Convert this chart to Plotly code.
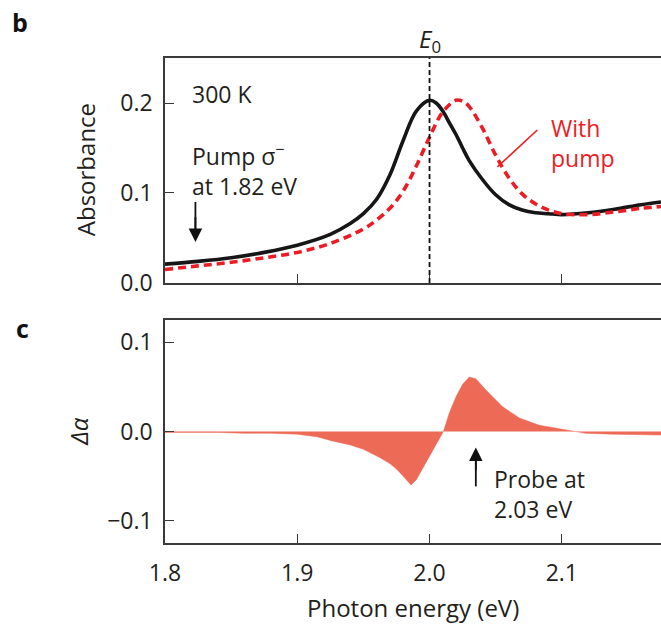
import plotly.graph_objects as go

# ---------------- data ----------------
E0 = 2.0
x_abs = [1.80, 1.825, 1.85, 1.875, 1.90, 1.925, 1.94, 1.95, 1.96, 1.97, 1.98, 1.99,
         2.00, 2.005, 2.01, 2.015, 2.02, 2.025, 2.03, 2.04, 2.05, 2.06, 2.07, 2.08,
         2.09, 2.10, 2.12, 2.14, 2.16, 2.175]
abs_nopump = [0.021, 0.024, 0.028, 0.034, 0.042, 0.054, 0.066, 0.077, 0.093, 0.120, 0.158, 0.191,
              0.203, 0.200, 0.191, 0.178, 0.165, 0.150, 0.136, 0.115, 0.098, 0.087, 0.081, 0.078,
              0.077, 0.076, 0.078, 0.082, 0.087, 0.090]
x_pump = [1.80, 1.825, 1.85, 1.875, 1.90, 1.925, 1.95, 1.96, 1.97, 1.98, 1.99, 2.00,
          2.01, 2.02, 2.025, 2.03, 2.04, 2.05, 2.06, 2.07, 2.08, 2.09, 2.10, 2.12,
          2.14, 2.16, 2.175]
abs_pump = [0.015, 0.019, 0.023, 0.028, 0.034, 0.044, 0.060, 0.070, 0.083, 0.102, 0.130, 0.162,
            0.190, 0.203, 0.202, 0.196, 0.172, 0.142, 0.117, 0.099, 0.088, 0.081, 0.077, 0.076,
            0.079, 0.083, 0.085]
x_diff = [1.80, 1.82, 1.84, 1.86, 1.88, 1.90, 1.915, 1.925, 1.94, 1.95, 1.962, 1.97, 1.975,
          1.98, 1.986, 1.99, 1.995, 2.0, 2.005, 2.0105, 2.015, 2.02, 2.025, 2.03, 2.035,
          2.043, 2.055, 2.068, 2.083, 2.10, 2.11, 2.118, 2.138, 2.16, 2.175]
d_alpha = [-0.001, -0.001, -0.001, -0.002, -0.002, -0.003, -0.006, -0.010, -0.015, -0.020, -0.029,
           -0.036, -0.042, -0.050, -0.060, -0.054, -0.041, -0.028, -0.014, 0.0, 0.021, 0.039,
           0.053, 0.061, 0.059, 0.046, 0.028, 0.015, 0.007, 0.003, 0.0, -0.002, -0.003, -0.004,
           -0.004]
x_ticks = [1.8, 1.9, 2.0, 2.1]
x_ticklabels = ["1.8", "1.9", "2.0", "2.1"]
y1_ticks = [0.0, 0.1, 0.2]
y1_ticklabels = ["0.0", "0.1", "0.2"]
y2_ticks = [-0.1, 0.0, 0.1]
y2_ticklabels = ["\u22120.1", "0.0", "0.1"]
pump_energy = 1.823
probe_energy = 2.035

# ---------------- styling ----------------
FONT = "Open Sans"
TXT = "#231f20"
AX = "#3a3a3a"
RED = "#ed1c24"
FILL = "rgb(236,106,86)"
FS = 23

fig = go.Figure()
fig.add_trace(go.Scatter(x=x_abs, y=abs_nopump, mode="lines", xaxis="x", yaxis="y",
                         line=dict(color="#161616", width=3.6, shape="spline"), showlegend=False))
fig.add_trace(go.Scatter(x=x_pump, y=abs_pump, mode="lines", xaxis="x", yaxis="y",
                         line=dict(color=RED, width=3.6, dash="8px,5px", shape="spline"), showlegend=False))
fig.add_trace(go.Scatter(x=x_diff, y=d_alpha, mode="lines", xaxis="x2", yaxis="y2",
                         fill="tozeroy", fillcolor=FILL,
                         line=dict(color=FILL, width=0.5), showlegend=False))

common_x = dict(range=[1.8, 2.175], tickvals=x_ticks, ticktext=x_ticklabels,
                ticks="inside", ticklen=9, tickwidth=1.3, tickcolor=AX,
                showline=True, linecolor=AX, linewidth=1.5, mirror=True,
                showgrid=False, zeroline=False)
common_y = dict(ticks="inside", ticklen=9, tickwidth=1.3, tickcolor=AX,
                showline=True, linecolor=AX, linewidth=1.5, showgrid=False, zeroline=False,
                tickfont=dict(family=FONT, size=FS, color=TXT), ticklabelstandoff=6)

fig.update_layout(
    width=661, height=631,
    margin=dict(l=165, r=0, t=58, b=88),
    paper_bgcolor="white", plot_bgcolor="white",
    xaxis=dict(anchor="y", domain=[0, 1], showticklabels=False, **common_x),
    xaxis2=dict(anchor="y2", domain=[0, 1], matches="x", showticklabels=True,
                tickfont=dict(family=FONT, size=FS, color=TXT), ticklabelstandoff=9, **common_x),
    yaxis=dict(domain=[0.5361, 1.0], range=[0, 0.25], tickvals=y1_ticks, ticktext=y1_ticklabels, **common_y),
    yaxis2=dict(domain=[0.0, 0.4598], range=[-0.125, 0.125], tickvals=y2_ticks, ticktext=y2_ticklabels, **common_y),
)

# E0 dashed line
fig.add_shape(type="line", xref="x", yref="y", x0=E0, x1=E0, y0=0, y1=0.25,
              line=dict(color="#111111", width=1.8, dash="5px,3px"))
# pointer line for "With pump"
fig.add_shape(type="line", xref="x", yref="y", x0=2.0815, y0=0.170, x1=2.0513, y1=0.129,
              line=dict(color=RED, width=1.6))
# arrow shafts
fig.add_shape(type="line", xref="x", yref="y", x0=pump_energy, x1=pump_energy, y0=0.090, y1=0.055,
              line=dict(color="#111", width=1.8))
fig.add_shape(type="line", xref="x2", yref="y2", x0=probe_energy, x1=probe_energy, y0=-0.0615, y1=-0.028,
              line=dict(color="#111", width=1.8))

ann = []
ann.append(dict(text="<b>b</b>", xref="paper", yref="paper", x=-0.292, y=1.074, showarrow=False,
                font=dict(family=FONT, size=25, color="#111"), xanchor="center", yanchor="middle"))
ann.append(dict(text="<b>c</b>", xref="paper", yref="paper", x=-0.288, y=0.443, showarrow=False,
                font=dict(family=FONT, size=25, color="#111"), xanchor="center", yanchor="middle"))
ann.append(dict(text="<i>E</i><sub>0</sub>", xref="x", yref="paper", x=E0, y=1.037, showarrow=False,
                font=dict(family=FONT, size=24, color=TXT), xanchor="center", yanchor="middle"))
ann.append(dict(text="300 K", xref="x", yref="y", x=1.8189, y=0.210, showarrow=False,
                font=dict(family=FONT, size=FS, color=TXT), xanchor="left", yanchor="middle"))
ann.append(dict(text="Pump \u03c3<sup>\u2212</sup><br>at 1.82 eV", xref="x", yref="y", x=1.8189, y=0.1255,
                showarrow=False, align="left",
                font=dict(family=FONT, size=FS, color=TXT), xanchor="left", yanchor="middle"))
ann.append(dict(text="", xref="x", yref="y", x=pump_energy, y=0.0456, axref="x", ayref="y",
                ax=pump_energy, ay=0.075, showarrow=True, arrowhead=2, arrowsize=1.5,
                arrowwidth=1.8, arrowcolor="#111"))
ann.append(dict(text="With<br>pump", xref="x", yref="y", x=2.0906, y=0.1555, showarrow=False,
                align="left", font=dict(family=FONT, size=FS, color=RED), xanchor="left", yanchor="middle"))
ann.append(dict(text="Probe at<br>2.03 eV", xref="x2", yref="y2", x=2.0475, y=-0.070, showarrow=False,
                align="left", font=dict(family=FONT, size=FS, color=TXT), xanchor="left", yanchor="middle"))
ann.append(dict(text="", xref="x2", yref="y2", x=probe_energy, y=-0.018, axref="x2", ayref="y2",
                ax=probe_energy, ay=-0.045, showarrow=True, arrowhead=2, arrowsize=1.5,
                arrowwidth=1.8, arrowcolor="#111"))
ann.append(dict(text="Absorbance", xref="paper", yref="paper", x=-0.161, y=0.769, showarrow=False,
                textangle=-90, font=dict(family=FONT, size=24, color=TXT), xanchor="center", yanchor="middle"))
ann.append(dict(text="<i>\u0394\u03b1</i>", xref="paper", yref="paper", x=-0.175, y=0.2299, showarrow=False,
                textangle=-90, font=dict(family=FONT, size=24, color=TXT), xanchor="center", yanchor="middle"))
ann.append(dict(text="Photon energy (eV)", xref="paper", yref="paper", x=0.5, y=-0.134, showarrow=False,
                font=dict(family=FONT, size=24, color=TXT), xanchor="center", yanchor="middle"))
fig.update_layout(annotations=ann)

fig.write_html("out.html")
